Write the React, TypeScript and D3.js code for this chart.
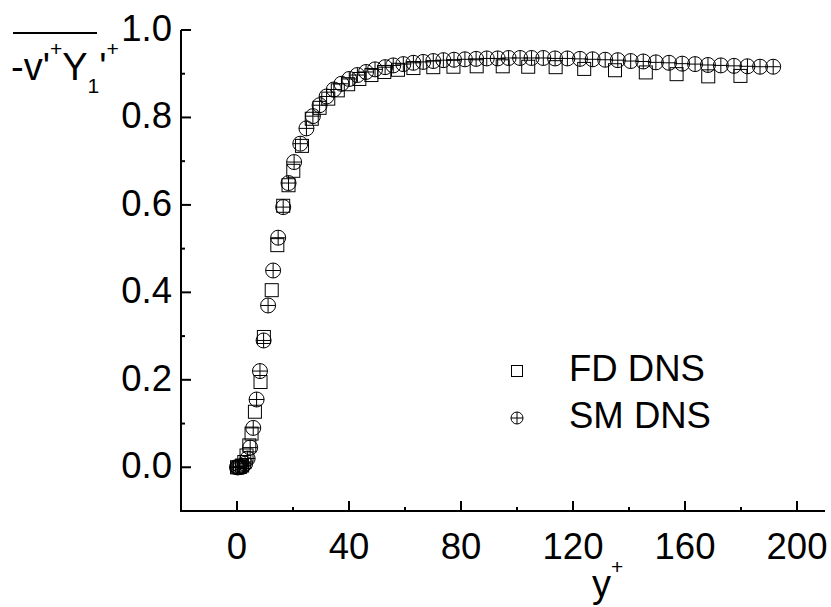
import React from "react";
import * as d3 from "d3";

// FD DNS (squares)
const fdYPlus = [0, 0.5, 1.1, 1.8, 2.6, 3.4, 4.4, 5.2, 6.4, 8.4, 9.6, 12.4, 14.4, 16.5, 18.4, 20.1, 23.2, 26.7, 29.5, 32.6, 36.0, 39.7, 43.7, 48.0, 52.6, 57.5, 63.0, 70.1, 77.3, 85.6, 94.9, 104.0, 113.8, 124.0, 135.0, 146.0, 157.0, 168.3, 179.8];
const fdValue = [0, 0, 0.001, 0.004, 0.012, 0.027, 0.05, 0.077, 0.127, 0.195, 0.298, 0.405, 0.508, 0.598, 0.645, 0.678, 0.735, 0.797, 0.822, 0.843, 0.862, 0.876, 0.888, 0.897, 0.904, 0.909, 0.913, 0.915, 0.916, 0.917, 0.917, 0.916, 0.915, 0.911, 0.908, 0.903, 0.899, 0.894, 0.895];

// SM DNS (circles with cross)
const smYPlus = [0, 0.2, 0.5, 0.9, 1.4, 2.1, 2.9, 3.8, 4.7, 5.8, 7.0, 8.2, 9.5, 11.1, 12.9, 14.7, 16.5, 18.4, 20.4, 22.6, 24.8, 27.1, 29.5, 32.0, 34.6, 37.3, 40.1, 43.0, 46.1, 49.3, 52.9, 55.8, 59.4, 63.0, 66.5, 70.1, 73.7, 77.5, 81.4, 85.4, 89.2, 93.1, 97.0, 101.1, 105.2, 109.4, 113.6, 118.0, 122.5, 127.0, 131.5, 136.0, 140.6, 145.1, 149.6, 154.3, 159.0, 163.6, 168.2, 172.8, 177.5, 182.3, 186.8, 191.5];
const smValue = [0, 0, 0, 0.0005, 0.001, 0.003, 0.008, 0.02, 0.045, 0.09, 0.155, 0.22, 0.29, 0.37, 0.45, 0.525, 0.595, 0.65, 0.698, 0.74, 0.775, 0.803, 0.828, 0.848, 0.864, 0.877, 0.888, 0.897, 0.904, 0.91, 0.915, 0.919, 0.922, 0.925, 0.927, 0.929, 0.931, 0.932, 0.933, 0.934, 0.935, 0.935, 0.936, 0.936, 0.936, 0.936, 0.935, 0.935, 0.934, 0.933, 0.932, 0.931, 0.929, 0.928, 0.926, 0.925, 0.923, 0.922, 0.92, 0.919, 0.918, 0.917, 0.916, 0.916];

const xMajorTicks = [0, 40, 80, 120, 160, 200];
const xMinorTicks = [20, 60, 100, 140, 180];
const yMajorTicks = [0, 0.2, 0.4, 0.6, 0.8, 1.0];
const yMinorTicks = [0.1, 0.3, 0.5, 0.7, 0.9];
const legendLabels = ["FD DNS", "SM DNS"];

const FONT = "'Liberation Sans', Arial, Helvetica, sans-serif";

export default function App() {
  const x = d3.scaleLinear().domain([-20, 210]).range([181, 825]);
  const y = d3.scaleLinear().domain([-0.1, 1.0]).range([511, 30]);
  const x0 = x(-20);
  const y0 = y(-0.1);
  const sq = 13;
  const r = 7.5;

  const fd = fdYPlus.map((v, i) => ({ x: v, y: fdValue[i] }));
  const sm = smYPlus.map((v, i) => ({ x: v, y: smValue[i] }));

  const fs = 36.5;

  return (
    <svg
      width={831}
      height={607}
      style={{ position: "absolute", left: 0, top: 0, background: "#fff" }}
      fontFamily={FONT}
    >
      <rect x={0} y={0} width={831} height={607} fill="#fff" />
      {/* data: squares */}
      <g fill="none" stroke="#000" strokeWidth={1}>
        {fd.map((d, i) => (
          <rect key={"f" + i} x={x(d.x) - sq / 2} y={y(d.y) - sq / 2} width={sq} height={sq} />
        ))}
      </g>
      {/* data: circles with cross */}
      <g fill="none" stroke="#000" strokeWidth={1}>
        {sm.map((d, i) => {
          const cx = x(d.x);
          const cy = y(d.y);
          return (
            <g key={"s" + i}>
              <circle cx={cx} cy={cy} r={r} />
              <line x1={cx - r} x2={cx + r} y1={cy} y2={cy} />
              <line x1={cx} x2={cx} y1={cy - r} y2={cy + r} />
            </g>
          );
        })}
      </g>

      {/* axes */}
      <g stroke="#000" strokeWidth={2} fill="none">
        <line x1={x0} x2={x0} y1={y(1.0)} y2={y0 + 1} />
        <line x1={x0 - 1} x2={x(210)} y1={y0} y2={y0} />
        {yMajorTicks.map((t) => (
          <line key={"ym" + t} x1={x0} x2={x0 + 10} y1={y(t)} y2={y(t)} />
        ))}
        {yMinorTicks.map((t) => (
          <line key={"yn" + t} x1={x0} x2={x0 + 4} y1={y(t)} y2={y(t)} />
        ))}
        {xMajorTicks.map((t) => (
          <line key={"xm" + t} x1={x(t)} x2={x(t)} y1={y0} y2={y0 - 10} />
        ))}
        {xMinorTicks.map((t) => (
          <line key={"xn" + t} x1={x(t)} x2={x(t)} y1={y0} y2={y0 - 4} />
        ))}
      </g>

      {/* tick labels */}
      <g fill="#000" fontSize={fs}>
        {yMajorTicks.map((t) => (
          <text key={"yl" + t} x={172} y={y(t) + 11} textAnchor="end">
            {t.toFixed(1)}
          </text>
        ))}
        {xMajorTicks.map((t) => (
          <text key={"xl" + t} x={x(t)} y={559} textAnchor="middle">
            {t}
          </text>
        ))}
      </g>

      {/* x axis title */}
      <text x={592} y={597} fontSize={38} fill="#000">
        y<tspan fontSize={21} dy={-23}>+</tspan>
      </text>

      {/* y axis title */}
      <line x1={13} x2={97} y1={33} y2={33} stroke="#000" strokeWidth={2} />
      <text x={11} y={80} fontSize={38} fill="#000">
        -v'<tspan fontSize={21} dy={-24}>+</tspan>
        <tspan dy={24}>Y</tspan>
        <tspan fontSize={21} dy={13}>1</tspan>
        <tspan dy={-13}>'</tspan>
        <tspan fontSize={21} dy={-24}>+</tspan>
      </text>

      {/* legend */}
      <g fill="none" stroke="#000" strokeWidth={1}>
        <rect x={517 - 5.5} y={371 - 5.5} width={11} height={11} />
        <circle cx={517} cy={418} r={6} />
        <line x1={511} x2={523} y1={418} y2={418} />
        <line x1={517} x2={517} y1={412} y2={424} />
      </g>
      <g fill="#000" fontSize={36.5}>
        <text x={569} y={381}>{legendLabels[0]}</text>
        <text x={569} y={428}>{legendLabels[1]}</text>
      </g>
    </svg>
  );
}
